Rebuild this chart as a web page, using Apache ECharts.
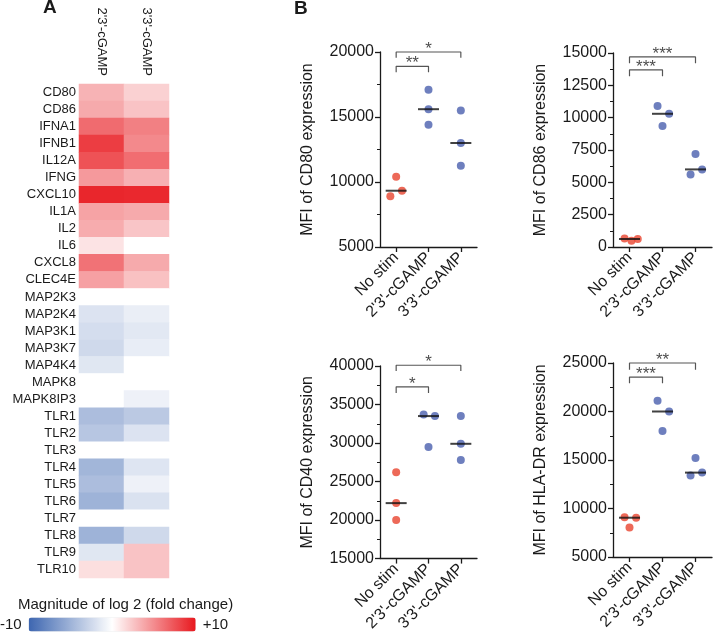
<!DOCTYPE html>
<html><head><meta charset="utf-8">
<script src="https://cdn.jsdelivr.net/npm/echarts@6/dist/echarts.min.js"></script>
<style>html,body{margin:0;padding:0;background:#fff}#c{width:714px;height:634px}</style>
</head><body><div id="c"></div>
<script>
// ---------- Panel A: heatmap data (log2 fold change) ----------
const genes = ['CD80','CD86','IFNA1','IFNB1','IL12A','IFNG','CXCL10','IL1A','IL2','IL6','CXCL8','CLEC4E',
  'MAP2K3','MAP2K4','MAP3K1','MAP3K7','MAP4K4','MAPK8','MAPK8IP3','TLR1','TLR2','TLR3','TLR4','TLR5',
  'TLR6','TLR7','TLR8','TLR9','TLR10'];
const heatCols = ["2'3'-cGAMP", "3'3'-cGAMP"];
const fc2323 = [3.3, 3.7, 6.4, 8.4, 7.5, 4.4, 9.4, 4.0, 3.6, 1.2, 6.1, 4.1,
  0, -1.8, -2.2, -2.5, -1.6, 0, 0, -4.3, -3.7, 0, -4.8, -4.3, -5.0, 0, -5.0, -1.6, 1.4];
const fc3333 = [2.0, 2.6, 5.5, 5.1, 6.3, 3.4, 9.3, 3.7, 2.5, 0, 3.7, 2.7,
  0, -1.1, -1.5, -1.2, 0, 0, -0.9, -3.5, -1.8, 0, -1.7, -0.9, -1.9, 0, -2.5, 2.6, 2.6];
const scaleMin = -10, scaleMax = 10;

// ---------- Panel B: MFI data ----------
const groups = ['No stim', "2'3'-cGAMP", "3'3'-cGAMP"];
const cd80  = [[10400, 8900, 9330], [17100, 15600, 14400], [15500, 13000, 11250]];
const cd86  = [[650, 480, 620], [10900, 10300, 9350], [7200, 6000, 5600]];
const cd40  = [[26200, 22200, 20000], [33700, 33500, 29500], [33500, 29900, 27800]];
const hladr = [[9100, 9050, 8050], [21100, 20000, 18000], [15200, 13700, 13400]];
// significance brackets: [fromGroup, toGroup, bracketTop, legBottom, stars]
const br80  = [[0, 1, 18900, 18450, '**'], [0, 2, 20000, 19550, '*']];
const br86  = [[0, 1, 13700, 13200, '***'], [0, 2, 14700, 14200, '***']];
const br40  = [[0, 1, 37300, 36500, '*'], [0, 2, 40100, 39350, '*']];
const brHLA = [[0, 1, 23550, 22900, '***'], [0, 2, 25000, 24300, '**']];

// ---------- styles ----------
const FONT = "'Liberation Sans', Arial, Helvetica, sans-serif";
const INK = '#1a1a1a';
const RED = '#e8432e', BLUE = '#4a5fae';
const JIT80  = [[0, -0.18, 0.18], [0, 0, 0], [0, 0, 0]];
const JIT86  = [[-0.15, 0.06, 0.25], [-0.15, 0.2, 0], [0, 0.2, -0.15]];
const JIT40  = [[0, 0, 0], [-0.15, 0.2, 0], [0, 0, 0]];
const JITHLA = [[-0.15, 0.2, 0], [-0.15, 0.2, 0], [0, 0.2, -0.15]];

const panels = [
  {name: 'MFI of CD80 expression', vals: cd80, min: 5000, max: 20000, step: 5000, br: br80, jit: JIT80,
   grid: {left: 380, top: 52, width: 97, height: 195}},
  {name: 'MFI of CD86 expression', vals: cd86, min: 0, max: 15000, step: 2500, br: br86, jit: JIT86,
   grid: {left: 613, top: 53, width: 99, height: 194}},
  {name: 'MFI of CD40 expression', vals: cd40, min: 15000, max: 40000, step: 5000, br: br40, jit: JIT40,
   grid: {left: 380, top: 366, width: 97, height: 193}},
  {name: 'MFI of HLA-DR expression', vals: hladr, min: 5000, max: 25000, step: 5000, br: brHLA, jit: JITHLA,
   grid: {left: 613, top: 363, width: 99, height: 194}}
];

function median(a) { const s = a.slice().sort((x, y) => x - y); return s[Math.floor(s.length / 2)]; }

const grids = [{left: 79, top: 84, width: 90, height: 494}];
const xAxes = [{
  type: 'category', gridIndex: 0, position: 'top', data: heatCols,
  axisLine: {show: false}, axisTick: {show: false}, splitLine: {show: false},
  axisLabel: {rotate: 90, fontSize: 13, color: INK, margin: 8, fontFamily: FONT}
}];
const yAxes = [{
  type: 'category', gridIndex: 0, data: genes, inverse: true,
  axisLine: {show: false}, axisTick: {show: false}, splitLine: {show: false},
  axisLabel: {fontSize: 13, color: INK, margin: 3, fontFamily: FONT}
}];
const heatData = [];
genes.forEach((g, r) => { heatData.push([0, r, fc2323[r]]); heatData.push([1, r, fc3333[r]]); });
const series = [{
  type: 'heatmap', xAxisIndex: 0, yAxisIndex: 0, data: heatData,
  itemStyle: {borderWidth: 0}, emphasis: {disabled: true}, silent: true
}];

const groupIdx = groups.map((_, i) => i);
panels.forEach((p, k) => {
  const gi = k + 1;
  grids.push(p.grid);
  xAxes.push({
    type: 'value', gridIndex: gi, min: -0.5, max: 2.5,
    axisLine: {show: true, onZero: false, lineStyle: {color: INK, width: 1.3}},
    axisTick: {show: true, length: 5, customValues: groupIdx, lineStyle: {color: INK, width: 1.3}},
    axisLabel: {customValues: groupIdx, formatter: v => groups[Math.round(v)] || '', rotate: 45,
      fontSize: 16, color: INK, margin: 8, fontFamily: FONT},
    splitLine: {show: false}
  });
  yAxes.push({
    type: 'value', gridIndex: gi, min: p.min, max: p.max, interval: p.step,
    name: p.name, nameLocation: 'middle', nameGap: 64,
    nameTextStyle: {fontSize: 16, color: INK, fontFamily: FONT},
    axisLine: {show: true, onZero: false, lineStyle: {color: INK, width: 1.3}},
    axisTick: {show: true, length: 5, lineStyle: {color: INK, width: 1.3}},
    minorTick: {show: true, splitNumber: 2, length: 3, lineStyle: {color: INK, width: 1}},
    axisLabel: {fontSize: 16, color: INK, margin: 6, fontFamily: FONT, formatter: v => String(v)},
    splitLine: {show: false}, minorSplitLine: {show: false}
  });
  const pts = [];
  p.vals.forEach((vals, g) => vals.forEach((v, j) => {
    pts.push({value: [g + p.jit[g][j], v], itemStyle: {color: g === 0 ? RED : BLUE}});
  }));
  series.push({type: 'scatter', xAxisIndex: gi, yAxisIndex: gi, data: pts, symbolSize: 8, clip: false, silent: true, z: 2});
  series.push({type: 'scatter', xAxisIndex: gi, yAxisIndex: gi, symbol: 'rect', symbolSize: [21, 2],
    itemStyle: {color: '#111'}, data: p.vals.map((vals, g) => [g, median(vals)]), clip: false, silent: true, z: 3});
  p.br.forEach(b => {
    series.push({type: 'line', xAxisIndex: gi, yAxisIndex: gi, symbol: 'none', clip: false, silent: true,
      lineStyle: {color: '#555', width: 1.2},
      data: [[b[0], b[3]], [b[0], b[2]], [b[1], b[2]], [b[1], b[3]]]});
    series.push({type: 'scatter', xAxisIndex: gi, yAxisIndex: gi, symbolSize: 0, clip: false, silent: true,
      data: [[(b[0] + b[1]) / 2, b[2]]],
      label: {show: true, position: 'top', distance: -6, formatter: b[4], fontSize: 17, color: INK, fontFamily: FONT}});
  });
});

const chart = echarts.init(document.getElementById('c'), null, {renderer: 'canvas'});
chart.setOption({
  animation: false,
  backgroundColor: '#fff',
  textStyle: {fontFamily: FONT, color: INK},
  title: [
    {text: 'A', left: 43, top: -2, padding: 0, textStyle: {fontSize: 19, fontWeight: 'bold', color: INK, fontFamily: FONT}},
    {text: 'B', left: 294, top: -1, padding: 0, textStyle: {fontSize: 19, fontWeight: 'bold', color: INK, fontFamily: FONT}},
    {text: 'Magnitude of log 2 (fold change)', left: 18, top: 597, padding: 0,
     textStyle: {fontSize: 15, fontWeight: 'normal', color: INK, fontFamily: FONT}}
  ],
  grid: grids,
  xAxis: xAxes,
  yAxis: yAxes,
  visualMap: {
    type: 'continuous', seriesIndex: 0, min: scaleMin, max: scaleMax, orient: 'horizontal',
    left: 0, bottom: 2, padding: 0, itemWidth: 14, itemHeight: 167, calculable: false, hoverLink: false,
    text: ['+10', '-10'], textGap: 7, textStyle: {fontSize: 15, color: INK, fontFamily: FONT},
    inRange: {color: ['#3d66b0', '#ffffff', '#e8181e']}
  },
  series: series
});
</script>
</body></html>
